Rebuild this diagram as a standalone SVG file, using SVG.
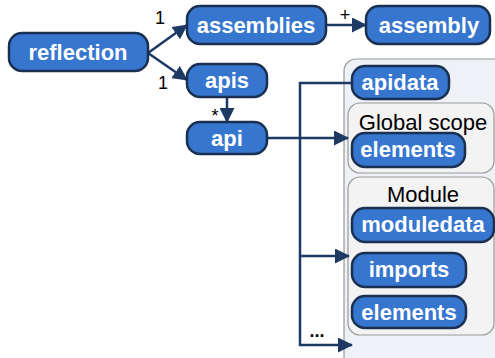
<svg xmlns="http://www.w3.org/2000/svg" width="495" height="358" viewBox="0 0 495 358">
  <style>
    .node rect { fill: #3676cf; stroke: #1b2f50; stroke-width: 2.5; }
    .node text { fill: #ffffff; font-family: "Liberation Sans", Arial, sans-serif; font-weight: bold; font-size: 22px; text-anchor: middle; }
    .frame { fill: #eef1f6; stroke: #9a9a9a; stroke-width: 1.2; }
    .scope { fill: #f3f3f3; stroke: #9a9a9a; stroke-width: 1.2; }
    .caption { fill: #000000; font-family: "Liberation Sans", Arial, sans-serif; font-size: 22px; text-anchor: middle; }
    .edge { fill: none; stroke: #1d3a65; stroke-width: 2.5; }
    .mult { fill: #000000; font-family: "Liberation Sans", Arial, sans-serif; font-size: 18px; text-anchor: middle; }
  </style>
  <defs>
    <marker id="arrow" markerUnits="userSpaceOnUse" markerWidth="15" markerHeight="15" refX="14" refY="7.5" orient="auto">
      <path d="M0,0 L15,7.5 L0,15 z" fill="#1d3a65"/>
    </marker>
  </defs>

  <rect width="495" height="358" fill="#ffffff"/>

  <!-- containers -->
  <g id="api-contents">
    <rect class="frame" x="344" y="59" width="170" height="312" rx="12"/>
    <g id="global-scope">
      <rect class="scope" x="348" y="103" width="146" height="70" rx="12"/>
      <text class="caption" x="423" y="130">Global scope</text>
    </g>
    <g id="module">
      <rect class="scope" x="348" y="177" width="146" height="158" rx="12"/>
      <text class="caption" x="423" y="202">Module</text>
    </g>
  </g>

  <!-- connectors -->
  <g id="connectors">
    <path class="edge" d="M148,53 L187,25" marker-end="url(#arrow)"/>
    <path class="edge" d="M148,53 L187,80" marker-end="url(#arrow)"/>
    <path class="edge" d="M326,25 L366,25" marker-end="url(#arrow)"/>
    <path class="edge" d="M227,97 L227,122" marker-end="url(#arrow)"/>
    <path class="edge" d="M267,138 L348,138" marker-end="url(#arrow)"/>
    <path class="edge" d="M352,83 L300,83 L300,345 L352,345" marker-end="url(#arrow)"/>
    <path class="edge" d="M300,256 L349,256" marker-end="url(#arrow)"/>
    <text class="mult" x="160" y="24">1</text>
    <text class="mult" x="163" y="89">1</text>
    <text class="mult" x="345" y="21">+</text>
    <text class="mult" x="215" y="122" font-size="15">*</text>
    <text class="mult" x="317" y="337" font-size="20" font-weight="bold">...</text>
  </g>

  <!-- nodes -->
  <g id="reflection" class="node">
    <rect x="9" y="33" width="139" height="38" rx="13"/>
    <text x="78" y="60">reflection</text>
  </g>
  <g id="assemblies" class="node">
    <rect x="187" y="6" width="139" height="38" rx="13"/>
    <text x="256" y="33">assemblies</text>
  </g>
  <g id="assembly" class="node">
    <rect x="366" y="6" width="124" height="38" rx="13"/>
    <text x="429" y="33">assembly</text>
  </g>
  <g id="apis" class="node">
    <rect x="187" y="64" width="80" height="33" rx="13"/>
    <text x="227" y="88">apis</text>
  </g>
  <g id="api" class="node">
    <rect x="187" y="122" width="80" height="32" rx="13"/>
    <text x="227" y="146">api</text>
  </g>
  <g id="apidata" class="node">
    <rect x="352" y="66" width="97" height="33" rx="13"/>
    <text x="400" y="90">apidata</text>
  </g>
  <g id="global-elements" class="node">
    <rect x="352" y="133" width="113" height="34" rx="13"/>
    <text x="408" y="157">elements</text>
  </g>
  <g id="moduledata" class="node">
    <rect x="352" y="208" width="142" height="34" rx="13"/>
    <text x="423" y="232">moduledata</text>
  </g>
  <g id="imports" class="node">
    <rect x="352" y="253" width="114" height="34" rx="13"/>
    <text x="409" y="277">imports</text>
  </g>
  <g id="module-elements" class="node">
    <rect x="352" y="296" width="114" height="32" rx="13"/>
    <text x="409" y="320">elements</text>
  </g>
</svg>
